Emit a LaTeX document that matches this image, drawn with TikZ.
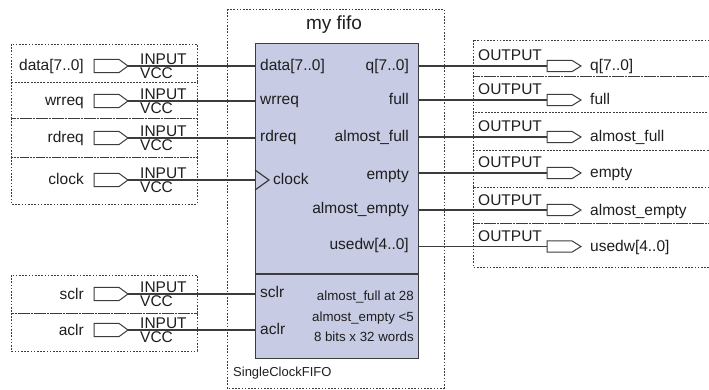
\documentclass[tikz,border=0pt]{standalone}
\usepackage{fontspec}
\setmainfont{Liberation Sans}
\definecolor{lc}{RGB}{60,60,60}
\definecolor{tc}{RGB}{30,30,30}
\definecolor{blockfill}{RGB}{199,203,228}
\begin{document}
\begin{tikzpicture}[x=1pt,y=-1pt,
  wire/.style={draw=lc,line width=1.2pt},
  pinshape/.style={draw=lc,line width=1pt,fill=white},
  dotbox/.style={draw=lc,line width=0.9pt,dash pattern=on 1.6pt off 1.6pt},
  lbl/.style={inner sep=0pt,text=tc,font=\fontsize{15.5}{18}\selectfont},
  small/.style={inner sep=0pt,text=tc,font=\fontsize{13.3}{16}\selectfont},
  inpin/.pic={\draw[pinshape] (-34,-6.6) -- (-9,-6.6) -- (0,0) -- (-9,6.6) -- (-34,6.6) -- cycle;},
  outpin/.pic={\draw[pinshape] (0,-5.6) -- (25,-5.6) -- (34,0) -- (25,5.6) -- (0,5.6) -- cycle;}
]
\useasboundingbox (0,0) rectangle (709,390);
\clip (0,0) rectangle (709,390);

% outer dotted box of the block
\draw[dotbox] (227,9) rectangle (444,388);
\node[inner sep=0pt,text=tc,font=\fontsize{19}{22}\selectfont,anchor=base] (title) at (334,29.5) {my fifo};
\node[inner sep=0pt,text=tc,font=\fontsize{13}{16}\selectfont,anchor=base west] (kind) at (233,376.5) {SingleClockFIFO};

% block
\node[draw=lc,line width=1.4pt,fill=blockfill,minimum width=163pt,minimum height=315pt,anchor=north west,inner sep=0pt] (fifo) at (255,43) {};
\coordinate (sepy) at (0,274);
\draw[lc,line width=1.4pt] (fifo.west |- sepy) -- (fifo.east |- sepy);
\draw[lc,line width=1.2pt] (255,170) -- (269,180) -- (255,190);

% input boxes
\draw[dotbox] (11,44) rectangle (197,82);
\draw[dotbox] (11,82) rectangle (197,118);
\draw[dotbox] (11,118) rectangle (197,157);
\draw[dotbox] (11,157) rectangle (197,204);
\draw[dotbox] (11,275) rectangle (197,313);
\draw[dotbox] (11,313) rectangle (197,351);

% output boxes
\draw[dotbox] (473,40) rectangle (720,76);
\draw[dotbox] (473,76) rectangle (720,112);
\draw[dotbox] (473,112) rectangle (720,150);
\draw[dotbox] (473,150) rectangle (720,187);
\draw[dotbox] (473,187) rectangle (720,223);
\draw[dotbox] (473,223) rectangle (720,267);

% inputs
\foreach \i/\nm/\y in {1/{data[7..0]}/66,2/wrreq/101,3/rdreq/138,4/clock/180,5/sclr/294,6/aclr/330}{
  \pic at (128,\y) {inpin};
  \coordinate (ip\i) at (128,\y);
  \node[lbl,anchor=base east] (in\i) at (84,\y+5) {\nm};
  \node[lbl,anchor=base west] (inT\i) at (140,\y-1.5) {INPUT};
  \node[lbl,anchor=north west] (inV\i) at (140,\y+1.8) {VCC};
  \draw[wire] (ip\i) -- (fifo.west |- ip\i);
}
\node[lbl,anchor=base west] (pd) at (260,71) {data[7..0]};
\node[lbl,anchor=base west] (pw) at (260,105) {wrreq};
\node[lbl,anchor=base west] (pr) at (260,141.5) {rdreq};
\node[lbl,anchor=base west] (pc) at (273,185) {clock};
\node[lbl,anchor=base west] (ps) at (260,297.7) {sclr};
\node[lbl,anchor=base west] (pa) at (260,334) {aclr};

% outputs
\foreach \i/\nm/\y/\py in {1/{q[7..0]}/66/71,2/full/100/105,3/almost\_full/137/141.5,4/empty/173/179,5/almost\_empty/210/213.5,6/{usedw[4..0]}/246.5/249}{
  \coordinate (op\i) at (547,\y);
  \draw[wire] (fifo.east |- op\i) -- (op\i);
  \pic at (op\i) {outpin};
  \node[lbl,anchor=base east] (po\i) at (409,\py) {\nm};
  \node[lbl,anchor=base west] (oT\i) at (478,\y-5) {OUTPUT};
  \node[lbl,anchor=base west] (on\i) at (590,\y+5) {\nm};
}

% parameters
\node[small,anchor=base east] (par1) at (414,300.7) {almost\_full at 28};
\node[small,anchor=base east] (par2) at (414,321.3) {almost\_empty <5};
\node[small,anchor=base east] (par3) at (414,341.7) {8 bits x 32 words};
\end{tikzpicture}
\end{document}
